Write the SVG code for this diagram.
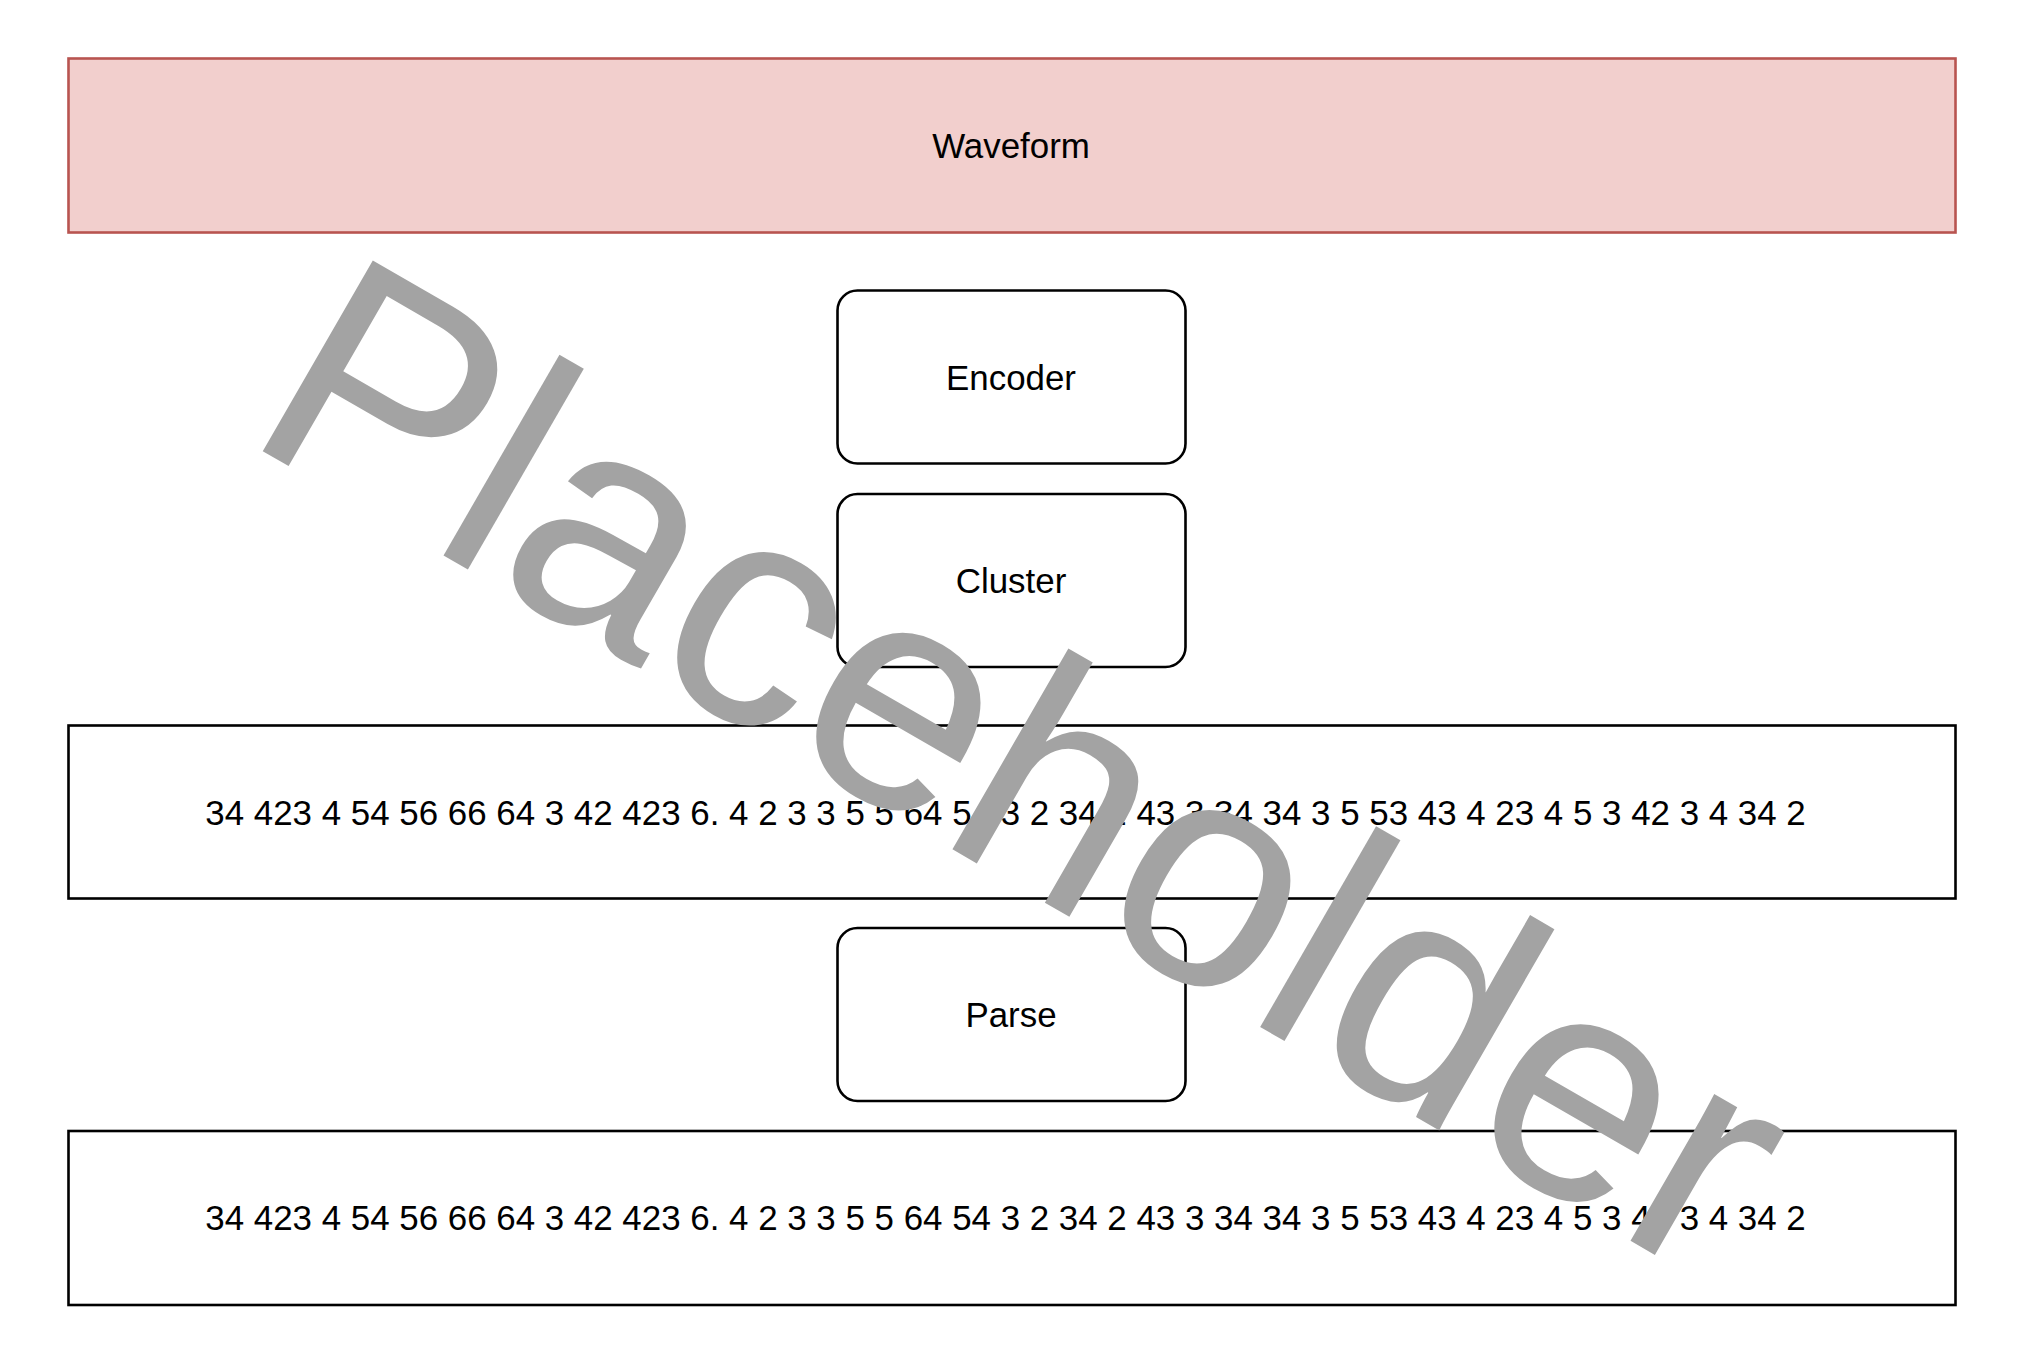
<svg xmlns="http://www.w3.org/2000/svg" width="2024" height="1370" viewBox="0 0 2024 1370">
  <style>
    .box { fill: #ffffff; stroke: #000000; stroke-width: 2.6; }
    .wave { fill: #f2cfcd; stroke: #b85450; stroke-width: 2.6; }
    .label { font-family: "Liberation Sans", Arial, Helvetica, sans-serif; font-size: 34.9px; fill: #000000; text-anchor: middle; }
    .mark { font-family: "Liberation Sans", Arial, Helvetica, sans-serif; font-size: 320px; fill: #a3a3a3; }
  </style>
  <rect width="2024" height="1370" fill="#ffffff"/>

  <g id="waveform">
    <rect class="wave" x="68.5" y="58.5" width="1887" height="174"/>
    <text class="label" x="1011" y="157.5">Waveform</text>
  </g>

  <g id="encoder">
    <rect class="box" x="837.5" y="290.5" width="348" height="173" rx="20" ry="20"/>
    <text class="label" x="1011" y="389.5">Encoder</text>
  </g>

  <g id="cluster">
    <rect class="box" x="837.5" y="494" width="348" height="173" rx="20" ry="20"/>
    <text class="label" x="1011" y="593">Cluster</text>
  </g>

  <g id="tokens-1">
    <rect class="box" x="68.5" y="725.5" width="1887" height="173"/>
    <text class="label" x="1005.5" y="824.5">34 423 4 54 56 66 64 3 42 423 6. 4 2 3 3 5 5 64 54 3 2 34 2 43 3 34 34 3 5 53 43 4 23 4 5 3 42 3 4 34 2</text>
  </g>

  <g id="parse">
    <rect class="box" x="837.5" y="928" width="348" height="173" rx="20" ry="20"/>
    <text class="label" x="1011" y="1027">Parse</text>
  </g>

  <g id="tokens-2">
    <rect class="box" x="68.5" y="1131" width="1887" height="174"/>
    <text class="label" x="1005.5" y="1230">34 423 4 54 56 66 64 3 42 423 6. 4 2 3 3 5 5 64 54 3 2 34 2 43 3 34 34 3 5 53 43 4 23 4 5 3 42 3 4 34 2</text>
  </g>

  <g id="connectors"></g>

  <!-- diagonal watermark drawn over everything -->
  <text class="mark" transform="translate(240 438) rotate(30)" x="0" y="0">Placeholder</text>
</svg>
